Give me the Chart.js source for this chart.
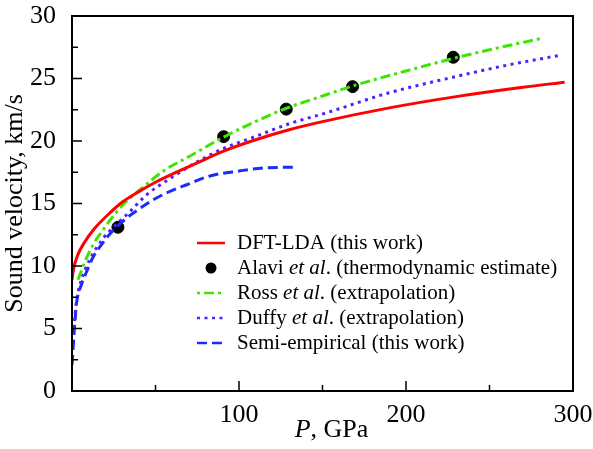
<!DOCTYPE html>
<html>
<head>
<meta charset="utf-8">
<script src="https://cdn.jsdelivr.net/npm/chart.js@4/dist/chart.umd.min.js"></script>
<style>
  body { margin: 0; background: #fff; }
  canvas { display: block; }
</style>
</head>
<body>
<canvas id="soundChart" width="593" height="449"></canvas>
<script>
// values (P in GPa, v in km/s)
const dftP = [0, 1, 3.5, 7.5, 13.5, 21.5, 30, 40, 50, 60, 75, 90, 110, 130, 150, 190, 230, 270, 295];
const dftV = [8.9, 9.8, 10.9, 11.9, 13.0, 14.1, 15.1, 15.95, 16.7, 17.35, 18.25, 19.15, 20.1, 20.9, 21.55, 22.65, 23.55, 24.3, 24.7];

const alaviP = [27.5, 90.8, 128.3, 168, 228.3];
const alaviV = [13.1, 20.35, 22.55, 24.35, 26.7];

const rossP = [3.6, 7.6, 12.6, 17.6, 23.6, 30.5, 40.7, 54.7, 70.7, 90.6, 110.6, 128, 150, 168, 200, 228, 255, 281];
const rossV = [8.9, 10.3, 11.7, 12.7, 13.8, 14.9, 16.1, 17.6, 18.8, 20.3, 21.6, 22.6, 23.6, 24.4, 25.6, 26.6, 27.45, 28.2];

const duffyP = [1.2, 2.5, 5.2, 10.6, 18.6, 25.5, 33.5, 44.7, 58.7, 70.7, 78.6, 90.6, 110.6, 130.5, 153.5, 188.4, 228, 260, 292];
const duffyV = [5.0, 7.0, 8.7, 10.5, 12.2, 13.2, 14.2, 15.7, 17.0, 18.0, 18.6, 19.4, 20.4, 21.4, 22.3, 23.8, 25.1, 26.05, 26.85];

const semiP = [0, 1.2, 2.6, 5.6, 8.6, 12.6, 17.6, 23.6, 31.5, 38.5, 48.7, 57.5, 68.7, 82.6, 100, 115, 135];
const semiV = [2.1, 4.5, 6.9, 8.5, 9.5, 10.7, 11.7, 12.7, 13.7, 14.4, 15.3, 15.9, 16.5, 17.2, 17.6, 17.85, 17.9];

const xTicks = [0, 100, 200, 300];
const yTicks = [0, 5, 10, 15, 20, 25, 30];

const serif = '"Liberation Serif", "Times New Roman", serif';
Chart.defaults.font.family = serif;
Chart.defaults.color = '#000';
const pts = (xs, ys) => xs.map((x, i) => ({ x: x, y: ys[i] }));

// legend rows: text pieces [text, italic]
const legendRows = [
  { color: '#ff0000', dash: [], width: 2.5, dot: false, parts: [['DFT-LDA (this work)', false]] },
  { color: '#000', dash: [], width: 0, dot: true, parts: [['Alavi ', false], ['et al', true], ['. (thermodynamic estimate)', false]] },
  { color: '#3ce600', dash: [3, 4, 10, 4], width: 2.5, dot: false, parts: [['Ross ', false], ['et al', true], ['. (extrapolation)', false]] },
  { color: '#5020ff', dash: [3, 4.5], width: 2.5, dot: false, parts: [['Duffy ', false], ['et al', true], ['. (extrapolation)', false]] },
  { color: '#1a2cff', dash: [10, 5], width: 2.5, dot: false, parts: [['Semi-empirical (this work)', false]] }
];

const frameTicks = {
  id: 'frameTicks',
  afterDraw(chart) {
    const c = chart.ctx;
    const a = chart.chartArea;
    const xs = chart.scales.x, ys = chart.scales.y;
    c.save();
    c.strokeStyle = '#000';
    c.lineWidth = 2;
    c.strokeRect(a.left, a.top, a.right - a.left, a.bottom - a.top);
    c.lineWidth = 1.5;
    c.beginPath();
    for (let v = 0; v <= 300; v += 50) {
      const px = xs.getPixelForValue(v);
      const len = v % 100 === 0 ? 10 : 6;
      c.moveTo(px, a.bottom);
      c.lineTo(px, a.bottom - len);
    }
    for (let v = 0; v <= 30; v += 2.5) {
      const py = ys.getPixelForValue(v);
      const len = v % 5 === 0 ? 10 : 6;
      c.moveTo(a.left, py);
      c.lineTo(a.left + len, py);
    }
    c.stroke();

    // x axis title with italic P
    c.fillStyle = '#000';
    c.textBaseline = 'middle';
    const f1 = 'italic 26px ' + serif, f2 = '26px ' + serif;
    c.font = f1; const w1 = c.measureText('P').width;
    c.font = f2; const w2 = c.measureText(', GPa').width;
    let tx = (a.left + a.right) / 2 + 9 - (w1 + w2) / 2;
    const ty = 430;
    c.font = f1; c.fillText('P', tx, ty);
    c.font = f2; c.fillText(', GPa', tx + w1, ty);

    // legend
    const lx1 = a.left + 125, lx2 = a.left + 153, tx0 = a.left + 165;
    legendRows.forEach((r, i) => {
      const y = a.top + 227 + i * 25;
      if (r.dot) {
        c.fillStyle = r.color;
        c.beginPath();
        c.arc((lx1 + lx2) / 2, y, 5.5, 0, Math.PI * 2);
        c.fill();
      } else {
        c.strokeStyle = r.color;
        c.lineWidth = r.width;
        c.setLineDash(r.dash);
        c.beginPath();
        c.moveTo(lx1, y);
        c.lineTo(lx2, y);
        c.stroke();
        c.setLineDash([]);
      }
      c.fillStyle = '#000';
      let x = tx0;
      r.parts.forEach(p => {
        c.font = (p[1] ? 'italic ' : '') + '21px ' + serif;
        c.fillText(p[0], x, y);
        x += c.measureText(p[0]).width;
      });
    });
    c.restore();
  }
};

const lineStyle = (color, dash) => ({
  borderColor: color,
  backgroundColor: color,
  borderWidth: 3,
  borderDash: dash,
  pointRadius: 0,
  fill: false,
  cubicInterpolationMode: 'monotone'
});

new Chart(document.getElementById('soundChart'), {
  type: 'line',
  data: {
    datasets: [
      Object.assign({ label: 'DFT-LDA (this work)', data: pts(dftP, dftV), order: 1 }, lineStyle('#ff0000', [])),
      {
        label: 'Alavi et al. (thermodynamic estimate)',
        data: pts(alaviP, alaviV),
        showLine: false,
        pointRadius: 6,
        pointBackgroundColor: '#000',
        pointBorderColor: '#000',
        order: 9
      },
      Object.assign({ label: 'Ross et al. (extrapolation)', data: pts(rossP, rossV), order: 2 }, lineStyle('#3ce600', [10, 4, 3, 4])),
      Object.assign({ label: 'Duffy et al. (extrapolation)', data: pts(duffyP, duffyV), order: 3 }, lineStyle('#5020ff', [3, 4.5])),
      Object.assign({ label: 'Semi-empirical (this work)', data: pts(semiP, semiV), order: 4 }, lineStyle('#1a2cff', [10, 5]))
    ]
  },
  options: {
    responsive: false,
    animation: false,
    layout: { padding: { top: 16, right: 20, left: 0, bottom: 0 } },
    plugins: { legend: { display: false }, tooltip: { enabled: false } },
    scales: {
      x: {
        type: 'linear',
        min: 0,
        max: 300,
        afterBuildTicks: s => { s.ticks = xTicks.map(v => ({ value: v })); },
        ticks: {
          callback: v => (v === 0 ? '' : v),
          font: { family: serif, size: 26 },
          color: '#000',
          padding: 1,
          maxRotation: 0
        },
        grid: { display: false },
        border: { display: false },
        afterFit: s => {
          s.height = 58;
          s.paddingLeft = 0;
          s.paddingRight = 0;
        }
      },
      y: {
        min: 0,
        max: 30,
        afterBuildTicks: s => { s.ticks = yTicks.map(v => ({ value: v })); },
        ticks: {
          font: { family: serif, size: 26 },
          color: '#000',
          padding: 8
        },
        grid: { display: false },
        border: { display: false },
        title: {
          display: true,
          text: 'Sound velocity, km/s',
          font: { family: serif, size: 26 },
          color: '#000',
          padding: { top: 0, bottom: 0 }
        },
        afterFit: s => {
          s.width = 72;
          s.paddingTop = 0;
          s.paddingBottom = 0;
        }
      }
    }
  },
  plugins: [frameTicks]
});
</script>
</body>
</html>
